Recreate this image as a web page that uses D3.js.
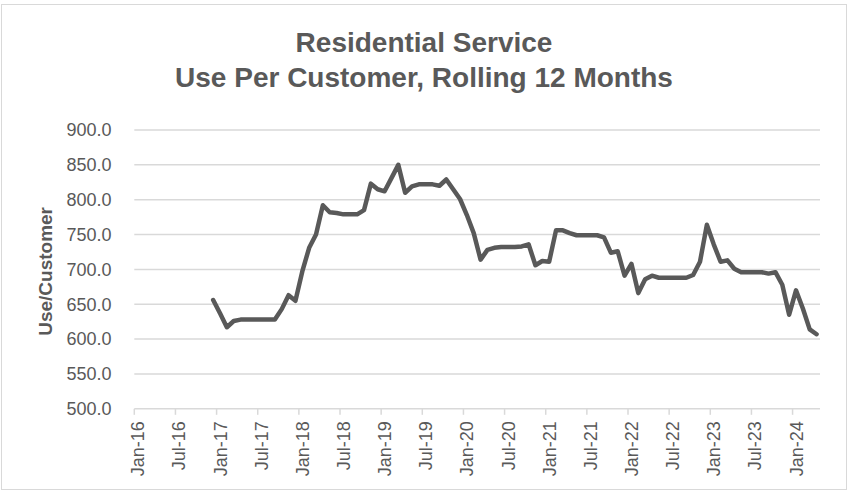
<!DOCTYPE html>
<html>
<head>
<meta charset="utf-8">
<script src="https://cdn.jsdelivr.net/npm/d3@7"></script>
<style>
  html, body { margin: 0; padding: 0; background: #ffffff; }
  svg { display: block; font-family: "Liberation Sans", Arial, sans-serif; }
</style>
</head>
<body>
<svg id="chart" width="849" height="492"></svg>
<script>
// Monthly observations (rolling 12-month residential use per customer)
const months = [
  "Dec-16",
  "Jan-17","Feb-17","Mar-17","Apr-17","May-17","Jun-17","Jul-17","Aug-17","Sep-17","Oct-17","Nov-17","Dec-17",
  "Jan-18","Feb-18","Mar-18","Apr-18","May-18","Jun-18","Jul-18","Aug-18","Sep-18","Oct-18","Nov-18","Dec-18",
  "Jan-19","Feb-19","Mar-19","Apr-19","May-19","Jun-19","Jul-19","Aug-19","Sep-19","Oct-19","Nov-19","Dec-19",
  "Jan-20","Feb-20","Mar-20","Apr-20","May-20","Jun-20","Jul-20","Aug-20","Sep-20","Oct-20","Nov-20","Dec-20",
  "Jan-21","Feb-21","Mar-21","Apr-21","May-21","Jun-21","Jul-21","Aug-21","Sep-21","Oct-21","Nov-21","Dec-21",
  "Jan-22","Feb-22","Mar-22","Apr-22","May-22","Jun-22","Jul-22","Aug-22","Sep-22","Oct-22","Nov-22","Dec-22",
  "Jan-23","Feb-23","Mar-23","Apr-23","May-23","Jun-23","Jul-23","Aug-23","Sep-23","Oct-23","Nov-23","Dec-23",
  "Jan-24","Feb-24","Mar-24","Apr-24"
];
const usePerCustomer = [
  656,
  637, 617, 626, 628, 628, 628, 628, 628, 628, 643, 663, 655,
  697, 731, 750, 792, 782, 781, 779, 779, 779, 785, 823, 815,
  812, 831, 850, 810, 819, 822, 822, 822, 820, 829, 815, 801,
  778, 752, 714, 728, 731, 732, 732, 732, 733, 736, 706, 712,
  711, 756, 756, 752, 749, 749, 749, 749, 746, 724, 726, 691,
  708, 666, 686, 691, 688, 688, 688, 688, 688, 692, 711, 764,
  736, 711, 713, 701, 696, 696, 696, 696, 694, 696, 678, 635,
  670, 644, 614, 607
];
const xTickLabels = [
  "Jan-16","Jul-16","Jan-17","Jul-17","Jan-18","Jul-18","Jan-19","Jul-19",
  "Jan-20","Jul-20","Jan-21","Jul-21","Jan-22","Jul-22","Jan-23","Jul-23","Jan-24"
];
const yTicks = [500, 550, 600, 650, 700, 750, 800, 850, 900];
const axisStart = "Jan-16";
const axisEnd = "Apr-24";
const titleLines = ["Residential Service", "Use Per Customer, Rolling 12 Months"];
const yAxisTitle = "Use/Customer";

const fmtMonth = d3.timeFormat("%b-%y");
const parseMonth = d3.timeParse("%b-%y");

// Every month slot on the category axis, first to last
const axisMonths = d3.timeMonth
  .range(parseMonth(axisStart), d3.timeMonth.offset(parseMonth(axisEnd), 1))
  .map(fmtMonth);

const series = months.map((m, i) => ({ month: m, value: usePerCustomer[i] }));

const plot = { left: 134.3, right: 820, top: 130, bottom: 408.8 };
const grey = "#595959";
const gridColor = "#d9d9d9";

const svg = d3.select("#chart");

// Chart frame
svg.append("rect")
  .attr("x", 1.5).attr("y", 4.5)
  .attr("width", 845).attr("height", 485)
  .attr("fill", "#ffffff")
  .attr("stroke", gridColor)
  .attr("stroke-width", 1);

const x = d3.scaleBand()
  .domain(axisMonths)
  .range([plot.left, plot.right])
  .padding(0);

const y = d3.scaleLinear()
  .domain([d3.min(yTicks), d3.max(yTicks)])
  .range([plot.bottom, plot.top]);

// Horizontal gridlines (the 500 line doubles as the category axis)
svg.append("g")
  .selectAll("line")
  .data(yTicks)
  .join("line")
  .attr("x1", plot.left).attr("x2", plot.right)
  .attr("y1", d => y(d)).attr("y2", d => y(d))
  .attr("stroke", gridColor)
  .attr("stroke-width", 1.5);

// Value axis labels
svg.append("g")
  .selectAll("text")
  .data(yTicks)
  .join("text")
  .attr("x", 111.5)
  .attr("y", d => y(d))
  .attr("dy", "0.35em")
  .attr("text-anchor", "end")
  .attr("font-size", 18)
  .attr("fill", grey)
  .text(d => d3.format(".1f")(d));

// Category axis tick marks at slot boundaries
svg.append("g")
  .selectAll("line")
  .data(xTickLabels)
  .join("line")
  .attr("x1", d => x(d)).attr("x2", d => x(d))
  .attr("y1", plot.bottom).attr("y2", plot.bottom + 6)
  .attr("stroke", gridColor)
  .attr("stroke-width", 1.5);

// Rotated category labels
svg.append("g")
  .selectAll("text")
  .data(xTickLabels)
  .join("text")
  .attr("transform", d => `translate(${x(d) + 10},${plot.bottom + 12.5}) rotate(-90)`)
  .attr("text-anchor", "end")
  .attr("font-size", 18)
  .attr("fill", grey)
  .text(d => d);

// Data line, each point centred in its month slot
const line = d3.line()
  .x(d => x(d.month) + x.bandwidth() / 2)
  .y(d => y(d.value));

svg.append("path")
  .datum(series)
  .attr("d", line)
  .attr("fill", "none")
  .attr("stroke", grey)
  .attr("stroke-width", 4.5)
  .attr("stroke-linejoin", "round")
  .attr("stroke-linecap", "round");

// Title
svg.append("g")
  .selectAll("text")
  .data(titleLines)
  .join("text")
  .attr("x", 424)
  .attr("y", (d, i) => 52 + i * 35)
  .attr("text-anchor", "middle")
  .attr("font-size", 28)
  .attr("font-weight", "bold")
  .attr("fill", grey)
  .text(d => d);

// Value axis title
svg.append("text")
  .attr("transform", `translate(52,${(plot.top + plot.bottom) / 2 + 2}) rotate(-90)`)
  .attr("text-anchor", "middle")
  .attr("font-size", 19)
  .attr("font-weight", "bold")
  .attr("fill", grey)
  .text(yAxisTitle);
</script>
</body>
</html>
